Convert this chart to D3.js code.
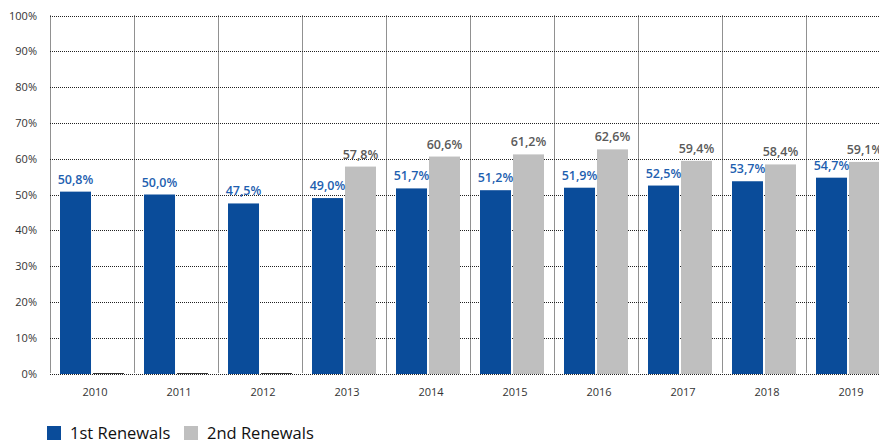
<!DOCTYPE html>
<html>
<head>
<meta charset="utf-8">
<script src="https://cdn.jsdelivr.net/npm/d3@7"></script>
<style>
  html, body { margin: 0; padding: 0; background: #fff; }
  svg { display: block; font-family: "Open Sans", "Noto Sans", sans-serif; }
</style>
</head>
<body>
<svg id="chart" width="879" height="441"></svg>
<script>
// Renewal rates by year
const years = ["2010", "2011", "2012", "2013", "2014", "2015", "2016", "2017", "2018", "2019"];
const firstRenewals = [50.8, 50.0, 47.5, 49.0, 51.7, 51.2, 51.9, 52.5, 53.7, 54.7];
const secondRenewals = [0, 0, 0, 57.8, 60.6, 61.2, 62.6, 59.4, 58.4, 59.1];
const yTicks = [0, 10, 20, 30, 40, 50, 60, 70, 80, 90, 100];
const seriesNames = ["1st Renewals", "2nd Renewals"];
const seriesColors = ["#0a4c9a", "#bfbfbf"];
const labelColors = ["#1f5fb0", "#5a5a5a"];

const svg = d3.select("#chart");
const plotLeft = 50, plotRight = 890, plotTop = 15.5, plotBottom = 373.5;

const x0 = d3.scaleBand().domain(years).range([plotLeft, plotRight]).padding(0);
const x1 = d3.scaleBand().domain([0, 1]).range([10, x0.bandwidth() - 10]).paddingInner(0.06);
const y = d3.scaleLinear().domain([0, 100]).range([plotBottom, plotTop]);

const fmt = v => d3.format(".1f")(v).replace(".", ",") + "%";

// Dotted grid
const grid = svg.append("g").attr("stroke", "#222").attr("stroke-dasharray", "1,1").attr("stroke-width", 1);
grid.selectAll("line.h").data(yTicks).join("line")
  .attr("x1", plotLeft).attr("x2", 879)
  .attr("y1", d => Math.round(y(d)) + 0.5).attr("y2", d => Math.round(y(d)) + 0.5);
grid.selectAll("line.v").data(years.concat(["end"])).join("line")
  .attr("x1", (d, i) => plotLeft + i * x0.step() + 0.5).attr("x2", (d, i) => plotLeft + i * x0.step() + 0.5)
  .attr("y1", y(100)).attr("y2", y(0));

// Y axis labels
const yAxis = d3.axisLeft(y).tickValues(yTicks).tickSize(0).tickPadding(13).tickFormat(d => d + "%");
svg.append("g").attr("transform", `translate(${plotLeft},0)`).call(yAxis)
  .call(g => g.select(".domain").remove())
  .selectAll("text").attr("font-size", 11).attr("fill", "#333").attr("font-family", "Open Sans, Noto Sans, sans-serif");

// X axis labels
const xAxis = d3.axisBottom(x0).tickSize(0).tickPadding(15);
svg.append("g").attr("transform", `translate(3,${plotBottom})`).call(xAxis)
  .call(g => g.select(".domain").remove())
  .selectAll("text").attr("font-size", 11).attr("fill", "#333").attr("font-family", "Open Sans, Noto Sans, sans-serif");

// Bars (a zero value is drawn as a thin line on the baseline)
const rows = years.map((yr, i) => ({ year: yr, values: [firstRenewals[i], secondRenewals[i]] }));
const groups = svg.append("g").selectAll("g").data(rows).join("g")
  .attr("transform", d => `translate(${x0(d.year)},0)`);

groups.selectAll("rect").data(d => d.values.map((v, s) => ({ v, s }))).join("rect")
  .attr("x", d => x1(d.s)).attr("width", x1.bandwidth())
  .attr("y", d => d.v > 0 ? y(d.v) : plotBottom - 0.5)
  .attr("height", d => d.v > 0 ? y(0) - y(d.v) + 0.5 : 1)
  .attr("fill", d => d.v > 0 ? seriesColors[d.s] : "#333");

groups.selectAll("text").data(d => d.values.map((v, s) => ({ v, s })).filter(d => d.v > 0)).join("text")
  .attr("x", d => x1(d.s) + x1.bandwidth() / 2)
  .attr("y", d => y(d.v) - 8)
  .attr("text-anchor", "middle")
  .attr("font-size", 12.5).attr("font-weight", 600)
  .attr("fill", d => labelColors[d.s])
  .text(d => fmt(d.v));

// Legend
const legend = svg.append("g");
const legendX = [47, 184];
seriesNames.forEach((name, i) => {
  legend.append("rect").attr("x", legendX[i]).attr("y", 426).attr("width", 14).attr("height", 14).attr("fill", seriesColors[i]);
  legend.append("text").attr("x", legendX[i] + 23).attr("y", 439)
    .attr("font-size", 16.5).attr("fill", "#111").text(name);
});
</script>
</body>
</html>
